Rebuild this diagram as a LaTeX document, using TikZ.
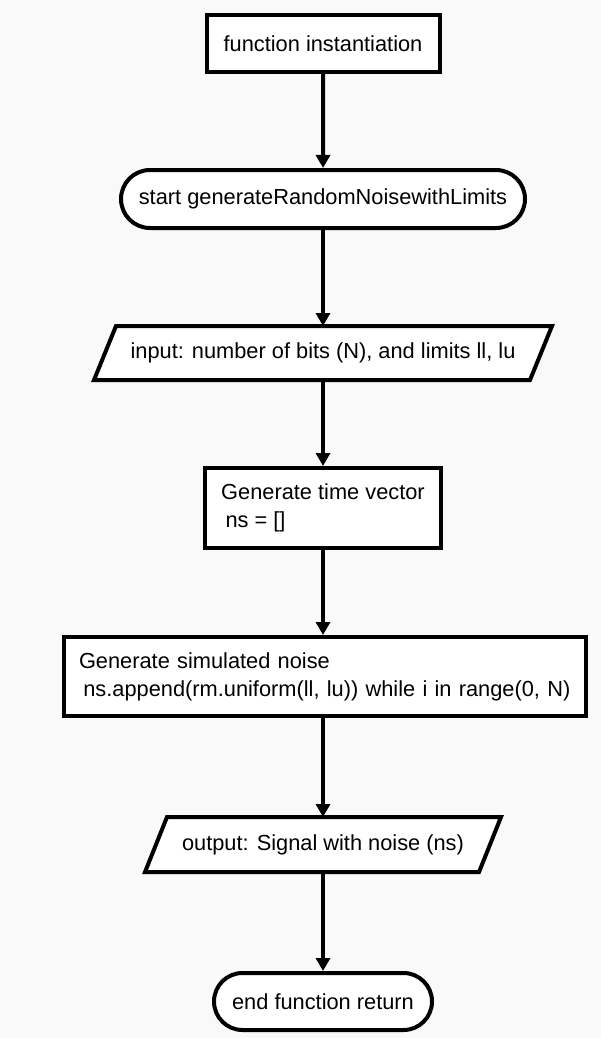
\documentclass[tikz,border=0pt]{standalone}
\usepackage{fontspec}
\setmainfont{Liberation Sans}
\usetikzlibrary{arrows.meta,shapes.misc,calc}
\definecolor{paper}{RGB}{249,249,249}
\pgfdeclarelayer{back}
\pgfsetlayers{back,main}
\begin{document}
\begin{tikzpicture}[x=1pt,y=1pt,
  every node/.style={font=\fontsize{21.8pt}{28pt}\selectfont, inner sep=0pt, line width=4pt},
  box/.style={draw, fill=white, rectangle},
  textbox/.style={box, align=left},
  term/.style={draw, fill=white, rounded rectangle},
  io/.style={rectangle, outer sep=0pt},
  slanted/.style={draw, fill=white, line width=4pt, line join=miter},
  flow/.style={line width=4pt, -{Triangle[length=13pt,width=14pt]}}
]
\begin{pgfonlayer}{back}
  \fill[paper] (0,0) rectangle (601,-1038);
\end{pgfonlayer}
\useasboundingbox (0,0) rectangle (601,-1038);

% process steps
\node[box, minimum width=233pt, minimum height=57pt] (inst) at (323,-43.5) {function instantiation};
\node[term, minimum width=404pt, minimum height=58pt] (start) at (323,-199) {start generateRandomNoisewithLimits};
\node[io, minimum width=436pt, minimum height=54pt] (inp) at (323,-353) {input: number of bits (N), and limits ll, lu};
\node[textbox, minimum width=236pt, minimum height=80pt] (tvec) at (323,-508)
  {Generate time vector\\\hspace*{0.2em}ns = []};
\node[textbox, inner xsep=15pt, text width=492pt, minimum height=79pt] (noise) at (325,-676.5)
  {Generate simulated noise\\\hspace*{0.2em}ns.append(rm.uniform(ll, lu)) while i in range(0, N)};
\node[io, minimum width=334pt, minimum height=55pt] (outp) at (323,-844.5) {output: Signal with noise (ns)};
\node[term, minimum width=218pt, minimum height=57pt] (finish) at (323,-1001.5) {end function return};

% parallelogram outlines for the input/output steps
\begin{pgfonlayer}{back}
  \foreach \n in {inp,outp}{
    \path[slanted] ($(\n.north west)+(11,0)$) -- ($(\n.north east)+(11,0)$)
      -- ($(\n.south east)+(-11,0)$) -- ($(\n.south west)+(-11,0)$) -- cycle;
  }
\end{pgfonlayer}

% connectors
\draw[flow] (inst) -- (start);
\draw[flow] (start) -- (inp);
\draw[flow] (inp) -- (tvec);
\draw[flow] (tvec) -- (noise.north -| tvec);
\draw[flow] (noise.south -| outp) -- (outp);
\draw[flow] (outp) -- (finish);
\end{tikzpicture}
\end{document}
